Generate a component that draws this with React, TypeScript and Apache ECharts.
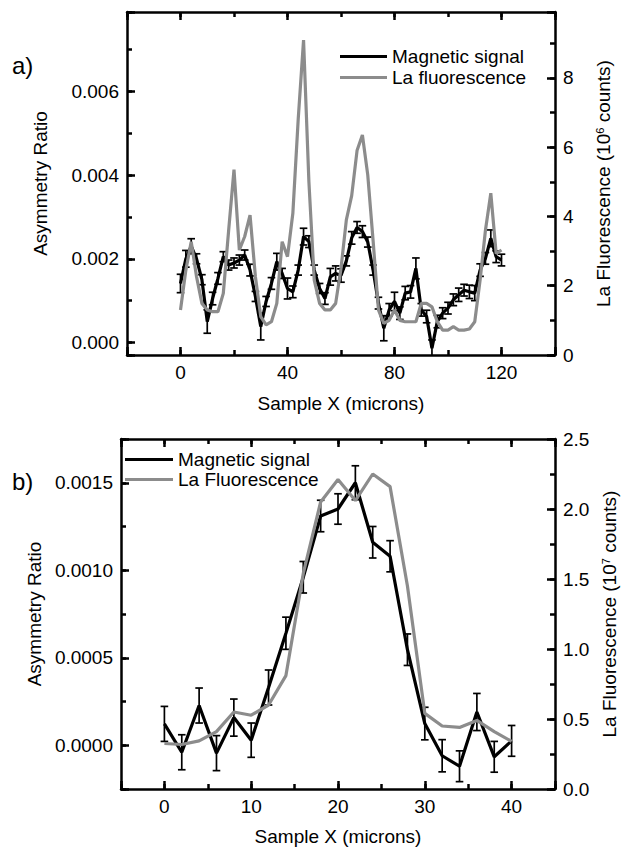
import React, { useEffect, useRef } from 'react';
import * as echarts from 'echarts';

const FONT = '"Liberation Sans", Arial, Helvetica, sans-serif';
const FS = 19;

// ---------- Panel a ----------
const xA = [0, 2, 4, 6, 8, 10, 12, 14, 16, 18, 20, 22, 24, 26, 28, 30, 32, 34, 36, 38, 40, 42, 44, 46, 48, 50, 52, 54, 56, 58, 60, 62, 64, 66, 68, 70, 72, 74, 76, 78, 80, 82, 84, 86, 88, 90, 92, 94, 96, 98, 100, 102, 104, 106, 108, 110, 112, 114, 116, 118, 120];
const magA = [0.00141, 0.00200, 0.00230, 0.00200, 0.00150, 0.00050, 0.00105, 0.00153, 0.00205, 0.00185, 0.00190, 0.00197, 0.00209, 0.00173, 0.00110, 0.00038, 0.00098, 0.00141, 0.00193, 0.00165, 0.00129, 0.00121, 0.00173, 0.00253, 0.00241, 0.00173, 0.00129, 0.00105, 0.00157, 0.00165, 0.00160, 0.00195, 0.00250, 0.00275, 0.00265, 0.00240, 0.00173, 0.00094, 0.00034, 0.00078, 0.00098, 0.00070, 0.00118, 0.00121, 0.00177, 0.00078, 0.00062, -0.00014, 0.00050, 0.00070, 0.00082, 0.00102, 0.00114, 0.00125, 0.00121, 0.00118, 0.00173, 0.00201, 0.00249, 0.00205, 0.00197];
const errA = [0.00022, 0.00020, 0.00018, 0.00012, 0.00012, 0.00028, 0.00015, 0.00014, 0.00012, 0.00012, 0.00012, 0.00012, 0.00012, 0.00014, 0.00012, 0.00032, 0.00012, 0.00014, 0.00020, 0.00012, 0.00025, 0.00014, 0.00012, 0.00020, 0.00014, 0.00012, 0.00012, 0.00014, 0.00020, 0.00018, 0.00016, 0.00012, 0.00015, 0.00014, 0.00014, 0.00012, 0.00012, 0.00014, 0.00030, 0.00015, 0.00022, 0.00015, 0.00016, 0.00015, 0.00025, 0.00015, 0.00015, 0.00020, 0.00015, 0.00013, 0.00014, 0.00014, 0.00016, 0.00014, 0.00016, 0.00018, 0.00015, 0.00014, 0.00020, 0.00014, 0.00014];
const fluorA = [1.30, 2.45, 3.27, 2.26, 1.49, 1.30, 1.25, 1.25, 1.78, 3.60, 5.35, 3.03, 3.42, 4.04, 2.26, 1.11, 0.87, 0.96, 1.49, 3.27, 2.84, 4.09, 6.80, 9.09, 5.00, 2.16, 1.49, 1.30, 1.30, 1.49, 2.50, 3.90, 4.60, 5.90, 6.35, 5.20, 3.30, 1.30, 0.91, 1.00, 1.30, 1.00, 0.96, 0.96, 0.96, 1.49, 1.49, 1.39, 0.96, 0.72, 0.72, 0.82, 0.72, 0.72, 0.75, 0.96, 2.16, 3.60, 4.67, 2.93, 3.03];

// ---------- Panel b ----------
const xB = [0, 2, 4, 6, 8, 10, 12, 14, 16, 18, 20, 22, 24, 26, 28, 30, 32, 34, 36, 38, 40];
const magB = [0.000122, -0.000040, 0.000227, -0.000045, 0.000158, 0.000029, 0.000330, 0.000640, 0.000960, 0.001310, 0.001350, 0.001500, 0.001160, 0.001080, 0.000546, 0.000124, -0.000060, -0.000120, 0.000190, -0.000066, 0.000025];
const errB = [0.000100, 0.000100, 0.000100, 0.000100, 0.000106, 0.000098, 0.000100, 0.000092, 0.000090, 0.000090, 0.000087, 0.000097, 0.000090, 0.000089, 0.000090, 0.000093, 0.000092, 0.000088, 0.000106, 0.000088, 0.000088];
const fluorB = [0.325, 0.318, 0.344, 0.410, 0.550, 0.527, 0.600, 0.810, 1.540, 2.050, 2.210, 2.060, 2.250, 2.160, 1.450, 0.540, 0.450, 0.440, 0.490, 0.410, 0.340];

// ---------- Labels ----------
const xTitle = 'Sample X (microns)';
const yTitle = 'Asymmetry Ratio';
const rightTitleA = '{t|La Fluorescence (10}{s|6}{t| counts)}';
const rightTitleB = '{t|La Fluorescence (10}{s|7}{t| counts)}';
const legendA = ['Magnetic signal', 'La fluorescence'];
const legendB = ['Magnetic signal', 'La Fluorescence'];

const GRAY = '#8c8c8c';

function isMult(v: number, step: number) {
  const r = v / step;
  return Math.abs(r - Math.round(r)) < 1e-6;
}

const nameStyle = {
  fontSize: FS,
  fontFamily: FONT,
  color: '#000',
  rich: {
    t: { fontSize: FS, fontFamily: FONT, color: '#000' },
    s: { fontSize: 11, fontFamily: FONT, color: '#000', verticalAlign: 'top' },
  },
};

function majorAxis(
  gridIndex: number,
  position: string,
  min: number,
  max: number,
  step: number,
  fmt: ((v: number) => string) | null,
  name?: string,
  nameGap?: number
) {
  return {
    type: 'value',
    gridIndex,
    position,
    min,
    max,
    minInterval: step,
    maxInterval: step,
    splitNumber: Math.max(1, Math.round((max - min) / step)),
    splitLine: { show: false },
    axisLine: { show: true, onZero: false, lineStyle: { color: '#000', width: 2.5 } },
    axisTick: { show: true, inside: true, length: 8, lineStyle: { color: '#000', width: 2.5 } },
    axisLabel: {
      show: !!fmt,
      margin: 8,
      color: '#000',
      fontSize: FS,
      fontFamily: FONT,
      formatter: (v: number) => (fmt && isMult(v, step) ? fmt(v) : ''),
    },
    name: name || '',
    nameLocation: 'middle',
    nameGap: nameGap || 0,
    nameTextStyle: nameStyle,
  };
}

function minorAxis(gridIndex: number, position: string, min: number, max: number, step: number) {
  return {
    type: 'value',
    gridIndex,
    position,
    min,
    max,
    minInterval: step,
    maxInterval: step,
    splitNumber: Math.max(1, Math.round((max - min) / step)),
    splitLine: { show: false },
    axisLine: { show: false, onZero: false },
    axisTick: { show: true, inside: true, length: 5, lineStyle: { color: '#000', width: 2.5 } },
    axisLabel: { show: false },
  };
}

function errorSeries(xi: number, yi: number, xs: number[], vs: number[], es: number[]) {
  return {
    type: 'custom',
    xAxisIndex: xi,
    yAxisIndex: yi,
    clip: true,
    silent: true,
    z: 3,
    encode: { x: 0, y: [1, 2] },
    data: xs.map((x, i) => [x, vs[i] - es[i], vs[i] + es[i]]),
    renderItem: (params: any, api: any) => {
      const x = api.value(0);
      const lo = api.coord([x, api.value(1)]);
      const hi = api.coord([x, api.value(2)]);
      const w = 3.8;
      const st = { stroke: '#000', lineWidth: 1.7 };
      return {
        type: 'group',
        children: [
          { type: 'line', shape: { x1: lo[0], y1: lo[1], x2: hi[0], y2: hi[1] }, style: st },
          { type: 'line', shape: { x1: lo[0] - w, y1: lo[1], x2: lo[0] + w, y2: lo[1] }, style: st },
          { type: 'line', shape: { x1: hi[0] - w, y1: hi[1], x2: hi[0] + w, y2: hi[1] }, style: st },
        ],
      };
    },
  };
}

function lineSeries(name: string, xi: number, yi: number, xs: number[], vs: number[], color: string, z: number) {
  return {
    type: 'line',
    name,
    xAxisIndex: xi,
    yAxisIndex: yi,
    data: xs.map((x, i) => [x, vs[i]]),
    symbol: 'none',
    showSymbol: false,
    clip: true,
    z,
    color,
    itemStyle: { color },
    lineStyle: { color, width: 3.2 },
  };
}

export default function App() {
  const ref = useRef<HTMLDivElement>(null);

  useEffect(() => {
    if (!ref.current) return;
    const chart = echarts.init(ref.current, null, { renderer: 'svg' });

    const option: any = {
      animation: false,
      backgroundColor: '#fff',
      textStyle: { fontFamily: FONT },
      grid: [
        { left: 127, top: 12, width: 428, height: 343, containLabel: false, outerBoundsMode: 'none' },
        { left: 121, top: 439, width: 434, height: 350, containLabel: false, outerBoundsMode: 'none' },
      ],
      xAxis: [
        majorAxis(0, 'bottom', -20, 140, 40, (v) => String(Math.round(v)), xTitle, 39),
        minorAxis(0, 'bottom', -20, 140, 20),
        majorAxis(0, 'top', -20, 140, 40, null),
        minorAxis(0, 'top', -20, 140, 20),
        majorAxis(1, 'bottom', -5, 45, 10, (v) => String(Math.round(v)), xTitle, 38),
        minorAxis(1, 'bottom', -5, 45, 5),
        majorAxis(1, 'top', -5, 45, 10, null),
        minorAxis(1, 'top', -5, 45, 5),
      ],
      yAxis: [
        majorAxis(0, 'left', -0.0003, 0.0079, 0.002, (v) => v.toFixed(3), yTitle, 77),
        minorAxis(0, 'left', -0.0003, 0.0079, 0.001),
        majorAxis(0, 'right', 0, 9.9, 2, (v) => String(Math.round(v)), rightTitleA, 39),
        minorAxis(0, 'right', 0, 9.9, 1),
        majorAxis(1, 'left', -0.00025, 0.00175, 0.0005, (v) => v.toFixed(4), yTitle, 77),
        minorAxis(1, 'left', -0.00025, 0.00175, 0.00025),
        majorAxis(1, 'right', 0, 2.5, 0.5, (v) => v.toFixed(1), rightTitleB, 39),
        minorAxis(1, 'right', 0, 2.5, 0.25),
      ],
      legend: [
        {
          left: 340,
          top: 47,
          orient: 'vertical',
          itemWidth: 47,
          itemHeight: 3,
          itemGap: 2,
          icon: 'rect',
          padding: 0,
          selectedMode: false,
          data: legendA,
          textStyle: { fontSize: FS, fontFamily: FONT, color: '#000', lineHeight: 19 },
        },
        {
          left: 125,
          top: 450,
          orient: 'vertical',
          itemWidth: 48,
          itemHeight: 3,
          itemGap: 1,
          icon: 'rect',
          padding: 0,
          selectedMode: false,
          data: legendB,
          textStyle: { fontSize: FS, fontFamily: FONT, color: '#000', lineHeight: 19 },
        },
      ],
      graphic: [
        { type: 'text', left: 12, top: 53, style: { text: 'a)', font: `24px ${FONT}`, fill: '#000' } },
        { type: 'text', left: 12, top: 469, style: { text: 'b)', font: `24px ${FONT}`, fill: '#000' } },
      ],
      series: [
        lineSeries(legendA[0], 0, 0, xA, magA, '#000', 2),
        errorSeries(0, 0, xA, magA, errA),
        lineSeries(legendA[1], 0, 2, xA, fluorA, GRAY, 4),
        lineSeries(legendB[0], 4, 4, xB, magB, '#000', 2),
        errorSeries(4, 4, xB, magB, errB),
        lineSeries(legendB[1], 4, 6, xB, fluorB, GRAY, 4),
      ],
    };

    chart.setOption(option);
    return () => chart.dispose();
  }, []);

  return (
    <div
      ref={ref}
      style={{ position: 'fixed', left: 0, top: 0, width: 621, height: 850, background: '#fff' }}
    />
  );
}
